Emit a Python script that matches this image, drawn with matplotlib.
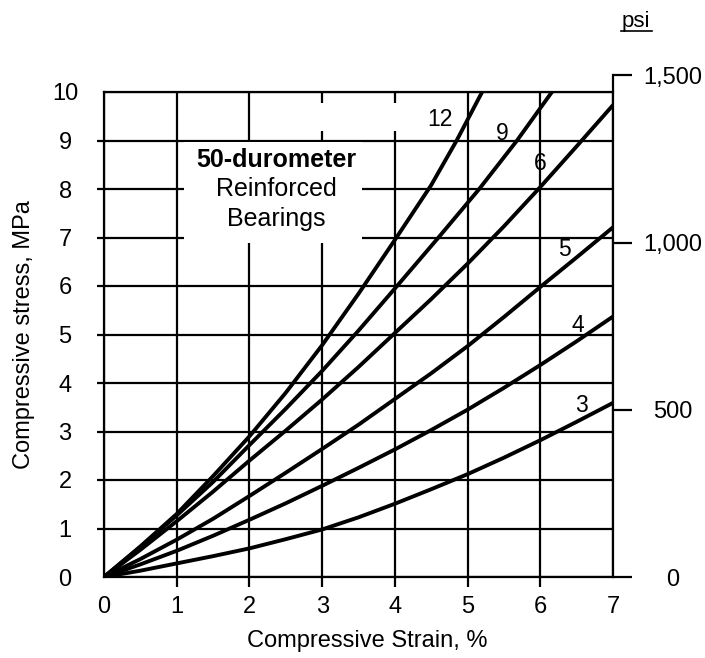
import numpy as np
import matplotlib
matplotlib.use("Agg")
import matplotlib.pyplot as plt
from matplotlib.patches import Rectangle
from matplotlib.lines import Line2D

plt.rcParams['font.family'] = ['Liberation Sans', 'DejaVu Sans']

# strain (%) vs compressive stress (MPa), one curve per shape factor
strain = [0, 0.5, 1, 1.5, 2, 2.5, 3, 3.5, 4, 4.5, 5, 5.5, 6, 6.5, 7]
stress_s3 = [0, 0.13, 0.28, 0.43, 0.59, 0.78, 0.98, 1.23, 1.51, 1.81, 2.12, 2.46, 2.82, 3.20, 3.59]
stress_s4 = [0, 0.26, 0.54, 0.85, 1.18, 1.52, 1.88, 2.25, 2.63, 3.03, 3.45, 3.90, 4.37, 4.86, 5.37]
stress_s5 = [0, 0.37, 0.77, 1.20, 1.67, 2.15, 2.64, 3.14, 3.67, 4.20, 4.76, 5.36, 5.98, 6.59, 7.21]
stress_s6 = [0, 0.56, 1.15, 1.76, 2.40, 3.02, 3.66, 4.33, 5.03, 5.73, 6.46, 7.23, 8.04, 8.88, 9.73]
strain_s9 = [0, 0.5, 1, 1.5, 2, 2.5, 3, 3.5, 4.03, 4.6, 5.16, 5.68, 6.16]
stress_s9 = [0, 0.62, 1.27, 1.96, 2.72, 3.47, 4.25, 5.08, 6.0, 7.0, 8.0, 9.0, 10.0]
strain_s12 = [0, 0.5, 1, 1.5, 2, 2.5, 3, 3.5, 4, 4.5, 4.85, 5.2]
stress_s12 = [0, 0.63, 1.30, 2.08, 2.90, 3.80, 4.78, 5.84, 6.95, 8.08, 9.0, 10.0]

shape_labels = ["3", "4", "5", "6", "9", "12"]
label_xy = [(6.56, 3.54), (6.52, 5.18), (6.33, 6.76), (6.0, 8.52), (5.48, 9.14), (4.62, 9.44)]

mpa_ticks = list(range(0, 11))
strain_ticks = list(range(0, 8))
psi_ticks = [0, 500, 1000, 1500]
psi_labels = ["0", "500", "1,000", "1,500"]
PSI_TO_MPA = 0.00689476

fig = plt.figure(figsize=(7.05, 6.58), dpi=100)
L, B, W, H = 104 / 705, 81 / 658, 509 / 705, 485 / 658
ax = fig.add_axes([L, B, W, H])
ax.set_xlim(0, 7)
ax.set_ylim(0, 10)
ax.set_xticks(strain_ticks)
ax.set_yticks(mpa_ticks)
ax.grid(True, color="black", lw=1.6)
ax.tick_params(axis="x", length=7, width=1.6, pad=7, labelsize=17)
ax.tick_params(axis="y", length=5, width=1.6, pad=23, labelsize=17)
for t in ax.get_yticklabels():
    t.set_horizontalalignment("center")
# corner ticks are not drawn in the original
for tk in (ax.xaxis.get_major_ticks()[0], ax.xaxis.get_major_ticks()[-1],
           ax.yaxis.get_major_ticks()[0], ax.yaxis.get_major_ticks()[-1]):
    tk.tick1line.set_visible(False)
for s in ["left", "top", "bottom"]:
    ax.spines[s].set_linewidth(1.6)
ax.spines["right"].set_visible(False)

# white areas hiding the grid (title box and a blank patch at the top)
ax.add_patch(Rectangle((1.10, 6.88), 2.45, 2.09, facecolor="white", edgecolor="none", zorder=2))
ax.add_patch(Rectangle((2.5, 9.2), 2.0, 0.58, facecolor="white", edgecolor="none", zorder=2))

curves = [
    (strain, stress_s3), (strain, stress_s4), (strain, stress_s5),
    (strain, stress_s6), (strain_s9, stress_s9), (strain_s12, stress_s12),
]
for (xs, ys), lab, (tx, ty) in zip(curves, shape_labels, label_xy):
    ax.plot(xs, ys, color="black", lw=2.8, zorder=3, solid_joinstyle="round", solid_capstyle="round")
    ax.text(tx, ty, lab, fontsize=16.5, ha="center", va="center", zorder=4)

ax.text(2.37, 8.46, "50-durometer", fontsize=18, fontweight="bold", ha="center", va="baseline", zorder=4)
ax.text(2.37, 7.86, "Reinforced", fontsize=18, ha="center", va="baseline", zorder=4)
ax.text(2.37, 7.24, "Bearings", fontsize=18, ha="center", va="baseline", zorder=4)

ax.set_xlabel("Compressive Strain, %", fontsize=17)
ax.xaxis.set_label_coords((367 - 104) / 509, -0.11)
ax.set_ylabel("Compressive stress, MPa", fontsize=17)
ax.yaxis.set_label_coords(-0.135, 0.5)

# psi axis on the right, same scale, reaching up to 1,500 psi
h2 = H * psi_ticks[-1] * PSI_TO_MPA / 10
ax2 = fig.add_axes([L, B, W, h2])
ax2.patch.set_visible(False)
ax2.set_ylim(0, psi_ticks[-1])
ax2.set_xticks([])
ax2.yaxis.tick_right()
for s in ["left", "top", "bottom"]:
    ax2.spines[s].set_visible(False)
ax2.spines["right"].set_linewidth(1.6)
ax2.set_yticks(psi_ticks)
ax2.set_yticklabels(psi_labels)
ax2.tick_params(axis="y", length=14, width=1.6, pad=29, labelsize=17)
for t in ax2.get_yticklabels():
    t.set_horizontalalignment("center")

fig.text(636 / 705, 1 - 21 / 658, "psi", fontsize=16, ha="center", va="center")
fig.add_artist(Line2D([621 / 705, 652 / 705], [1 - 31 / 658, 1 - 31 / 658],
                      transform=fig.transFigure, color="black", lw=1.2))

fig.savefig("out.png", dpi=100)
